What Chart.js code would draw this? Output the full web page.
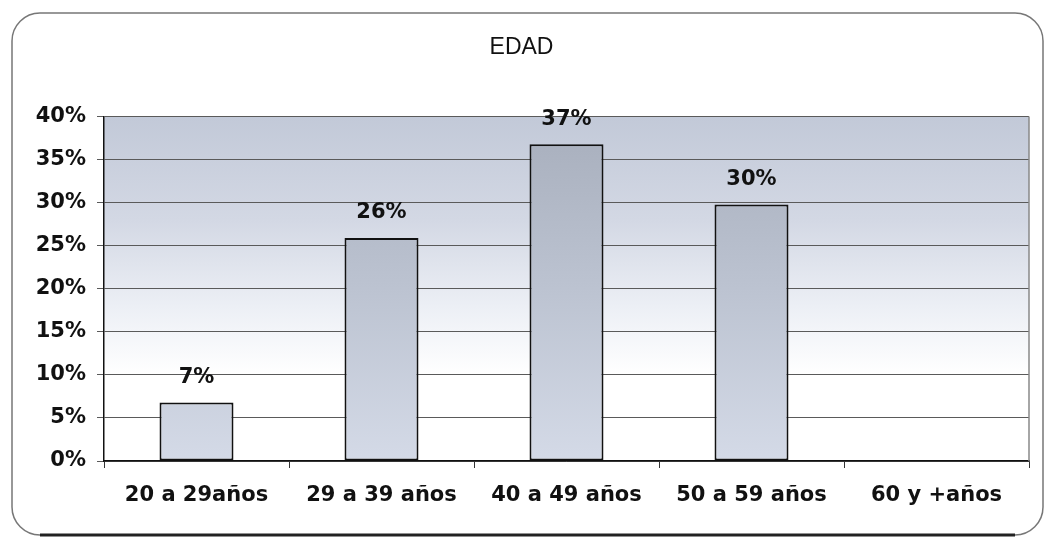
<!DOCTYPE html>
<html>
<head>
<meta charset="utf-8">
<script src="https://cdn.jsdelivr.net/npm/chart.js@4/dist/chart.umd.min.js"></script>
<style>
    html, body { margin: 0; padding: 0; background: #fff; }
    #wrap { width: 1045px; height: 538px; }
</style>
</head>
<body>
<div id="wrap"><canvas id="edadChart" width="1045" height="538"></canvas></div>
<script>
var categories = ['20 a 29años', '29 a 39 años', '40 a 49 años', '50 a 59 años', '60 y +años'];
var values = [6.8, 25.9, 36.8, 29.8, 0];
var yTicks = [0, 5, 10, 15, 20, 25, 30, 35, 40];

var boldFont = { family: 'DejaVu Sans', weight: 'bold', size: 21 };

// rounded frame + plot background
var framePlugin = {
    id: 'frame',
    beforeDraw: function (chart) {
        var c = chart.ctx, a = chart.chartArea;
        c.save();
        c.fillStyle = '#fff';
        c.fillRect(0, 0, chart.width, chart.height);

        var g = c.createLinearGradient(0, a.top, 0, a.bottom);
        g.addColorStop(0, '#c2c9d8');
        g.addColorStop(0.3, '#d3d8e4');
        g.addColorStop(0.55, '#eceff5');
        g.addColorStop(0.75, '#ffffff');
        g.addColorStop(1, '#ffffff');
        c.fillStyle = g;
        c.fillRect(a.left, a.top, a.right - a.left, a.bottom - a.top);

        c.beginPath();
        c.roundRect(12, 13, 1031, 522, 28);
        c.lineWidth = 1.5;
        c.strokeStyle = '#777';
        c.stroke();
        c.beginPath();
        c.moveTo(40, 535);
        c.lineTo(1015, 535);
        c.lineWidth = 3;
        c.strokeStyle = '#222';
        c.stroke();
        c.restore();
    },
    beforeDatasetsDraw: function (chart) {
        var c = chart.ctx, a = chart.chartArea;
        c.save();
        c.beginPath();
        c.moveTo(a.right, a.top);
        c.lineTo(a.right, a.bottom);
        c.lineWidth = 1.5;
        c.strokeStyle = '#888';
        c.stroke();
        c.restore();
    }
};

var valueLabels = {
    id: 'valueLabels',
    afterDatasetsDraw: function (chart) {
        var c = chart.ctx;
        var meta = chart.getDatasetMeta(0);
        c.save();
        c.font = 'bold 21px "DejaVu Sans"';
        c.fillStyle = '#111';
        c.textAlign = 'center';
        c.textBaseline = 'middle';
        meta.data.forEach(function (bar, i) {
            if (!values[i]) return;
            c.fillText(Math.round(values[i]) + '%', bar.x, bar.y - 25);
        });
        c.restore();
    }
};

new Chart(document.getElementById('edadChart'), {
    type: 'bar',
    data: {
        labels: categories,
        datasets: [{
            data: values,
            barPercentage: 0.4,
            categoryPercentage: 1,
            borderColor: '#111',
            borderWidth: 2,
            borderSkipped: false,
            backgroundColor: function (context) {
                var a = context.chart.chartArea;
                if (!a) return '#b9c0ce';
                var g = context.chart.ctx.createLinearGradient(0, a.top, 0, a.bottom);
                g.addColorStop(0, '#a7aebc');
                g.addColorStop(0.5, '#bcc3d1');
                g.addColorStop(1, '#d4dae7');
                return g;
            }
        }]
    },
    options: {
        responsive: false,
        animation: false,
        layout: { padding: { left: 14, right: 16, top: 13, bottom: 0 } },
        plugins: {
            legend: { display: false },
            tooltip: { enabled: false },
            title: {
                display: true,
                text: 'EDAD',
                color: '#111',
                font: { family: 'Liberation Sans', size: 23, weight: 'normal' },
                padding: { top: 21, bottom: 55 }
            }
        },
        scales: {
            x: {
                offset: true,
                grid: { offset: true, drawOnChartArea: false, drawTicks: true, tickLength: 7, color: '#333' },
                border: { color: '#111', width: 1.5 },
                ticks: { color: '#111', font: boldFont, padding: 15, maxRotation: 0 },
                afterFit: function (scale) { scale.height = 77; }
            },
            y: {
                min: 0,
                max: 40,
                afterBuildTicks: function (scale) {
                    scale.ticks = yTicks.map(function (v) { return { value: v }; });
                },
                grid: { color: '#5a5a5a', lineWidth: 1, tickLength: 7 },
                border: { color: '#111', width: 1.5 },
                ticks: {
                    color: '#111',
                    font: boldFont,
                    padding: 11,
                    callback: function (v) { return v + '%'; }
                },
                afterFit: function (scale) { scale.width = 90; }
            }
        }
    },
    plugins: [framePlugin, valueLabels]
});
</script>
</body>
</html>
